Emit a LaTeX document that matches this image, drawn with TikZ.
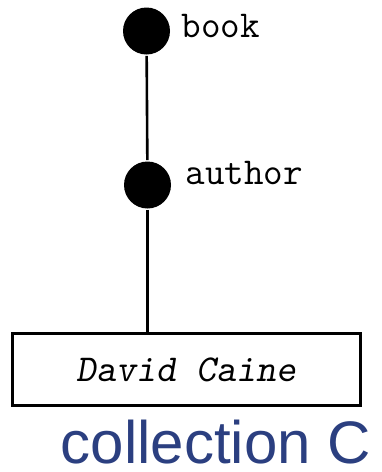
\documentclass[tikz,border=0pt]{standalone}
\usepackage{fontspec}
\setmainfont{Liberation Sans}
\definecolor{collblue}{HTML}{2B3F80}
\begin{document}
\begin{tikzpicture}[x=1pt,y=-1pt,line width=2.6pt,
  dot/.style={circle,fill=black,inner sep=0pt,minimum size=47pt},
  lbl/.style={anchor=base west,font=\fontsize{38}{44}\selectfont\ttfamily}]
\useasboundingbox (0,0) rectangle (382,472);
\node[dot] (book) at (146.5,31) {};
\node[lbl] (booklbl) at (177,37) {book};
\node[dot] (author) at (147.5,185) {};
\node[lbl] (authorlbl) at (181,184) {author};
\node[draw,line width=3pt,minimum width=348pt,minimum height=72pt,inner sep=0pt,
  font=\fontsize{38}{44}\selectfont\ttfamily\slshape] (caine) at (186.5,369.5) {David Caine};
\draw (book) -- (author);
\draw (author) -- (author |- caine.north);
\node[anchor=base,text=collblue,inner sep=0pt,font=\fontsize{60}{66}\selectfont] (coll) at (216,463) {collection C};
\end{tikzpicture}
\end{document}
